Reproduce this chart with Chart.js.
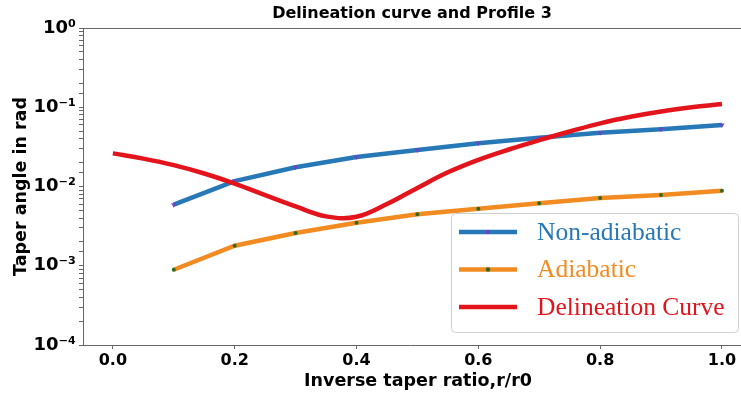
<!DOCTYPE html>
<html>
<head>
<meta charset="utf-8">
<script src="https://cdn.jsdelivr.net/npm/chart.js@4.4.1/dist/chart.umd.min.js"></script>
<style>
  html, body { margin: 0; padding: 0; background: #fff; }
</style>
</head>
<body>
<canvas id="grafico" width="741" height="393"></canvas>
<script>
// data
var ratios = [0.1, 0.2, 0.3, 0.4, 0.5, 0.6, 0.7, 0.8, 0.9, 1.0];
var nonAdiabatic = [0.0059, 0.0117, 0.0175, 0.0236, 0.0288, 0.0351, 0.0411, 0.0477, 0.0527, 0.0597];
var adiabatic = [0.00089, 0.00179, 0.00259, 0.00349, 0.00446, 0.00525, 0.00614, 0.00716, 0.00781, 0.00886];
var delinX = [0.0, 0.05, 0.1, 0.15, 0.2, 0.25, 0.3, 0.35, 0.4, 0.45, 0.5,
              0.55, 0.6, 0.65, 0.7, 0.75, 0.8, 0.85, 0.9, 0.95, 1.0];
var delinY = [0.0262, 0.0225, 0.0186, 0.0146, 0.0109, 0.0078, 0.0056, 0.0042, 0.00415, 0.0060, 0.0096,
              0.0151, 0.0217, 0.0293, 0.0384, 0.0494, 0.0627, 0.0758, 0.0884, 0.0999, 0.110];
var xTicks = [0.0, 0.2, 0.4, 0.6, 0.8, 1.0];

var sup = { "0": "\u2070", "1": "\u00b9", "2": "\u00b2", "3": "\u00b3", "4": "\u2074", "-": "\u207b" };
function powLabel(e) {
  return "10" + String(e).split("").map(function (c) { return sup[c]; }).join("");
}

function pts(xs, ys) {
  return xs.map(function (x, i) { return { x: x, y: ys[i] }; });
}

var boldFont = "'DejaVu Sans', sans-serif";

// title, spines, x title and legend box
var extras = {
  id: "extras",
  afterDraw: function (chart) {
    var ctx = chart.ctx;
    var a = chart.chartArea;
    ctx.save();
    ctx.strokeStyle = "#666";
    ctx.lineWidth = 1;
    ctx.beginPath();
    ctx.moveTo(a.left, a.top + 0.5);
    ctx.lineTo(chart.width, a.top + 0.5);
    ctx.moveTo(a.right, a.bottom + 0.5);
    ctx.lineTo(chart.width, a.bottom + 0.5);
    ctx.stroke();

    ctx.fillStyle = "#000";
    ctx.font = "bold 16px " + boldFont;
    ctx.textAlign = "center";
    ctx.textBaseline = "middle";
    ctx.fillText("Delineation curve and Profile 3", 412, 14);

    // x axis title
    ctx.save();
    ctx.translate(418, 382);
    ctx.scale(1.03, 1);
    ctx.font = "bold 17px " + boldFont;
    ctx.fillText("Inverse taper ratio,r/r0", 0, 0);
    ctx.restore();

    // legend
    var w = 287, h = 119;
    var bx = chart.width - 3 - w, by = a.bottom - 13 - h;
    ctx.fillStyle = "rgba(255,255,255,0.85)";
    ctx.strokeStyle = "#d0d0d0";
    ctx.beginPath();
    ctx.roundRect(bx + 0.5, by + 0.5, w, h, 4);
    ctx.fill();
    ctx.stroke();
    ctx.font = "25.5px 'Liberation Serif', serif";
    ctx.textAlign = "left";
    chart.data.datasets.forEach(function (ds, i) {
      var cy = by + 19 + i * 37.5;
      ctx.strokeStyle = ds.borderColor;
      ctx.lineWidth = 4.5;
      ctx.beginPath();
      ctx.moveTo(bx + 8, cy);
      ctx.lineTo(bx + 66, cy);
      ctx.stroke();
      if (ds.pointRadius > 0) {
        ctx.fillStyle = ds.pointBackgroundColor;
        ctx.beginPath();
        ctx.arc(bx + 37, cy, 2.2, 0, Math.PI * 2);
        ctx.fill();
      }
      ctx.fillStyle = ds.borderColor;
      ctx.fillText(ds.label, bx + 86, cy + 1);
    });
    ctx.restore();
  }
};

var ctx = document.getElementById("grafico").getContext("2d");
var meuGrafico = new Chart(ctx, {
  type: "line",
  data: {
    datasets: [
      {
        label: "Non-adiabatic",
        data: pts(ratios, nonAdiabatic),
        borderColor: "#2778b6",
        borderWidth: 4.5,
        pointStyle: "triangle",
        pointRotation: 180,
        pointRadius: 3,
        pointBorderWidth: 0,
        pointBackgroundColor: "#6d43c8",
        order: 2
      },
      {
        label: "Adiabatic",
        data: pts(ratios, adiabatic),
        borderColor: "#f28b22",
        borderWidth: 4.5,
        pointRadius: 2,
        pointBorderWidth: 0,
        pointBackgroundColor: "#2f6b1e",
        order: 1
      },
      {
        label: "Delineation Curve",
        data: pts(delinX, delinY),
        borderColor: "#e3141c",
        borderWidth: 4.5,
        pointRadius: 0,
        tension: 0.4,
        order: 0
      }
    ]
  },
  options: {
    responsive: false,
    animation: false,
    layout: { padding: { top: 28, right: 0, left: 0, bottom: 0 } },
    plugins: {
      legend: { display: false },
      tooltip: { enabled: false }
    },
    scales: {
      x: {
        type: "linear",
        min: -0.049,
        max: 1.0247,
        afterFit: function (s) { s.height = 48; },
        afterBuildTicks: function (s) {
          s.ticks = xTicks.map(function (v) { return { value: v }; });
        },
        ticks: {
          color: "#000",
          font: { family: boldFont, size: 16, weight: "bold" },
          padding: 2,
          maxRotation: 0,
          autoSkip: false,
          callback: function (v) { return Number(v).toFixed(1); }
        },
        grid: { drawOnChartArea: false, drawTicks: true, tickLength: 4, color: "#666" },
        border: { color: "#666" }
      },
      y: {
        type: "logarithmic",
        min: 0.0001,
        max: 1,
        afterFit: function (s) { s.width = 83; },
        ticks: {
          color: "#000",
          font: { family: boldFont, size: 18, weight: "bold" },
          padding: 3,
          autoSkip: false,
          callback: function (v) {
            var e = Math.log10(v);
            if (Math.abs(e - Math.round(e)) < 1e-9) return powLabel(Math.round(e));
            return "";
          }
        },
        grid: { drawOnChartArea: false, drawTicks: true, tickLength: 4, color: "#666" },
        border: { color: "#666" },
        title: {
          display: true,
          text: "Taper angle in rad",
          color: "#000",
          font: { family: boldFont, size: 17.5, weight: "bold" },
          padding: { top: 11, bottom: 0 }
        }
      }
    }
  },
  plugins: [extras]
});
</script>
</body>
</html>
